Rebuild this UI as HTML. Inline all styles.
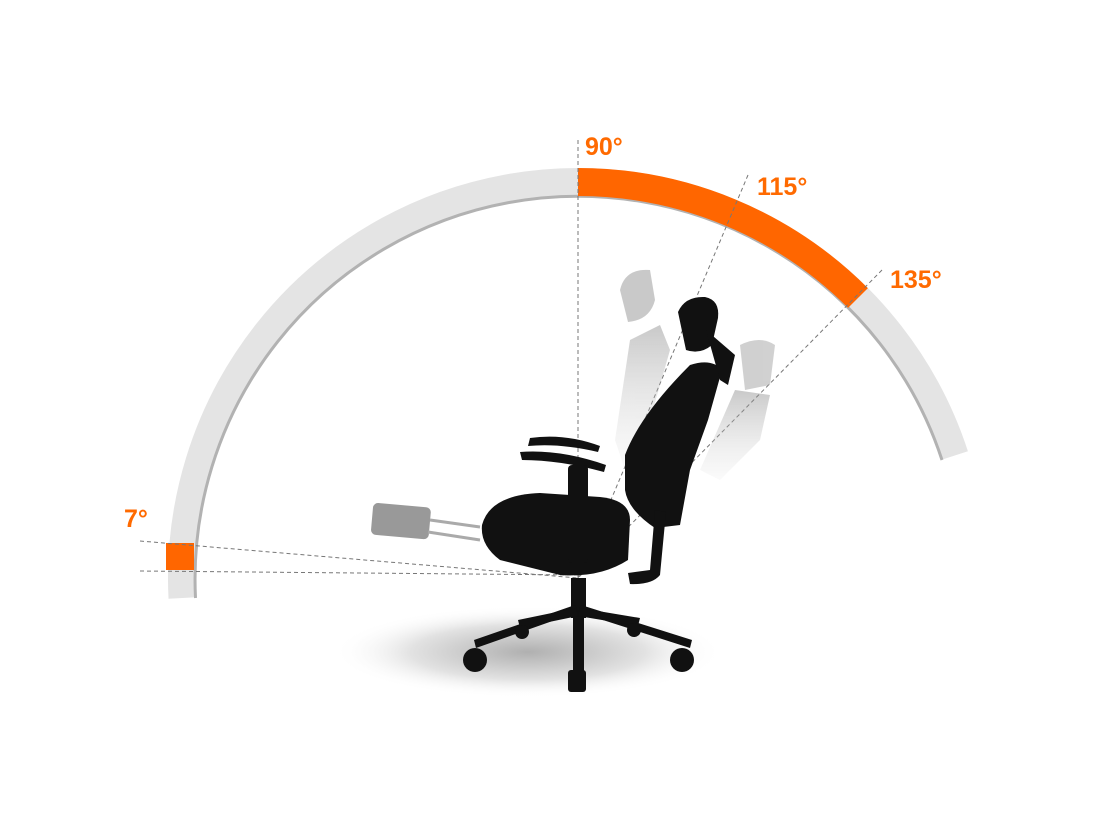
<!DOCTYPE html>
<html><head><style>
html,body{margin:0;padding:0;background:#fff;width:1100px;height:834px;overflow:hidden}
.l{font-family:"Liberation Sans",sans-serif;font-weight:bold;fill:#ff6a00;font-size:25px}
</style></head><body>
<svg width="1100" height="834" viewBox="0 0 1100 834" xmlns="http://www.w3.org/2000/svg">
<defs>
<radialGradient id="sh" cx="50%" cy="50%" r="50%">
<stop offset="0" stop-color="#b0b0b0"/><stop offset="0.6" stop-color="#e2e2e2"/><stop offset="1" stop-color="#fff" stop-opacity="0"/>
</radialGradient>
<linearGradient id="gh" x1="0" y1="0" x2="0" y2="1"><stop offset="0" stop-color="#888"/><stop offset="1" stop-color="#ddd" stop-opacity="0.3"/></linearGradient>
</defs>
<path d="M182.5,598 A396,396 0 0 1 954.6,455.6" fill="none" stroke="#e4e4e4" stroke-width="28"/>
<path d="M195.5,598 A383,383 0 0 1 942,460" fill="none" stroke="#b2b2b2" stroke-width="3"/>
<path d="M578,182 A396,396 0 0 1 858,298" fill="none" stroke="#ff6600" stroke-width="28"/>
<rect x="166" y="543" width="28" height="27" fill="#ff6600"/>
<g stroke="#777" stroke-width="1" stroke-dasharray="4,3" fill="none">
<line x1="578" y1="140" x2="578" y2="578"/>
<line x1="748" y1="175" x2="578" y2="578"/>
<line x1="882" y1="270" x2="578" y2="578"/>
<line x1="140" y1="541" x2="578" y2="578"/>
<line x1="140" y1="571" x2="578" y2="575"/>
</g>
<text class="l" x="585" y="155">90°</text>
<text class="l" x="757" y="195">115°</text>
<text class="l" x="890" y="288">135°</text>
<text class="l" x="124" y="527">7°</text>
<ellipse cx="528" cy="652" rx="195" ry="46" fill="url(#sh)"/>
<g opacity="0.45">
<path d="M620,290 Q625,268 650,270 L655,300 Q650,320 628,322 Z" fill="#888"/>
<path d="M630,340 L660,325 L670,350 L650,420 L625,470 L615,440 Z" fill="url(#gh)"/>
<path d="M740,345 Q760,335 775,345 L770,385 L745,390 Z" fill="#999"/>
<path d="M735,390 L770,395 L760,440 L720,480 L700,470 Z" fill="url(#gh)"/>
</g>
<rect x="372" y="505" width="58" height="32" rx="5" fill="#999" transform="rotate(5 400 520)"/>
<line x1="430" y1="520" x2="480" y2="527" stroke="#aaa" stroke-width="3"/>
<line x1="428" y1="532" x2="480" y2="540" stroke="#aaa" stroke-width="3"/>
<g fill="#111">
<path d="M482,525 Q490,495 540,493 L600,497 Q630,500 630,520 L628,560 Q600,578 560,575 L500,560 Q480,545 482,525 Z"/>
<path d="M530,438 Q565,433 600,446 L598,452 Q560,443 528,446 Z"/>
<path d="M520,452 Q560,449 606,465 L604,472 Q560,460 522,460 Z"/>
<rect x="568" y="465" width="20" height="98" rx="4"/>
<path d="M625,455 Q640,415 690,365 Q712,358 722,370 L708,420 L690,470 L680,525 L655,528 Q628,510 625,490 Z"/>
<path d="M678,312 Q685,296 705,297 Q720,300 718,318 L712,345 Q700,355 686,350 Z"/>
<path d="M706,330 L735,355 L728,385 L720,380 Z"/>
<path d="M655,510 L666,512 L660,575 Q652,585 630,584 L628,573 L650,570 Z"/>
<rect x="571" y="578" width="15" height="40"/>
<rect x="573" y="610" width="11" height="70"/>
<path d="M578,612 L476,648 L474,640 L575,605 Z"/>
<path d="M578,612 L690,648 L692,640 L581,605 Z"/>
<path d="M576,608 L518,620 L520,628 L578,616 Z"/>
<path d="M580,608 L640,618 L638,626 L578,616 Z"/>
<circle cx="475" cy="660" r="12"/>
<circle cx="682" cy="660" r="12"/>
<rect x="568" y="670" width="18" height="22" rx="3"/>
<circle cx="522" cy="632" r="7"/>
<circle cx="634" cy="630" r="7"/>
</g>
</svg>
</body></html>
